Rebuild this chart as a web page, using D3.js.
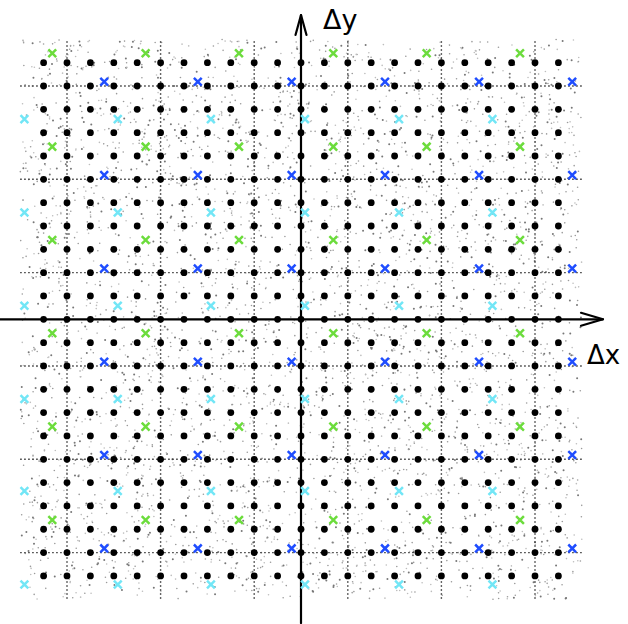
<!DOCTYPE html>
<html>
<head>
<meta charset="utf-8">
<script src="https://cdn.jsdelivr.net/npm/d3@7"></script>
<style>
  html, body { margin: 0; padding: 0; background: #fff; }
  svg { display: block; }
</style>
</head>
<body>
<svg id="chart" width="628" height="624"></svg>
<script>
// Integer lattice positions (in lattice units) for the black dots
const latticeSteps = [-11, -10, -9, -8, -7, -6, -5, -4, -3, -2, -1, 0, 1, 2, 3, 4, 5, 6, 7, 8, 9, 10, 11];
// Dotted guide lines, every fourth lattice row / column
const guideSteps = [-10, -6, -2, 2, 6, 10];

// Shifted sub-lattices marked with crosses
const greenX = [-10.63, -6.64, -2.65, 1.38, 5.37, 9.36];
const greenY = [11.4, 7.4, 3.4, -0.6, -4.6, -8.6];
const blueX  = [-8.41, -4.41, -0.40, 3.59, 7.61, 11.59];
const blueY  = [10.18, 6.18, 2.18, -1.82, -5.82, -9.82];
const cyanX  = [-11.82, -7.83, -3.85, 0.17, 4.19, 8.18];
const cyanY  = [8.58, 4.58, 0.58, -3.42, -7.36, -11.37];

const crossSeries = [
  { name: "green", xs: greenX, ys: greenY, color: "#6cdc3c" },
  { name: "blue",  xs: blueX,  ys: blueY,  color: "#1f4dff" },
  { name: "cyan",  xs: cyanX,  ys: cyanY,  color: "#72e6f6" }
];

const extent = 12;
const svg = d3.select("#chart");

const x = d3.scaleLinear().domain([-extent, extent]).range([301 - extent * 23.4, 301 + extent * 23.4]);
const y = d3.scaleLinear().domain([-extent, extent]).range([319.3 + extent * 23.33, 319.3 - extent * 23.33]);

// Grainy measurement speckle filling the sampled square (seeded, so it is stable)
const rng = d3.randomLcg(0.4217);
const uni = d3.randomUniform.source(rng);
const ux = uni(-extent, extent);
const shade = uni(0, 1);
const speckle = svg.append("g").attr("class", "speckle");
for (let i = 0; i < 4000; i++) {
  const px = ux(), py = ux();
  const s = shade();
  speckle.append("circle")
    .attr("cx", x(px)).attr("cy", y(py))
    .attr("r", s < 0.25 ? 1.0 : 0.8)
    .attr("fill", s < 0.25 ? "#777" : (s < 0.65 ? "#9a9a9a" : "#bdbdbd"));
}

// Dotted guide lines
const guides = svg.append("g").attr("class", "guides")
  .attr("stroke", "#333").attr("stroke-width", 1.4).attr("stroke-dasharray", "1.5,2.5");
guides.selectAll("line.h").data(guideSteps).join("line")
  .attr("class", "h")
  .attr("x1", x(-extent)).attr("x2", x(extent))
  .attr("y1", d => y(d)).attr("y2", d => y(d));
guides.selectAll("line.v").data(guideSteps).join("line")
  .attr("class", "v")
  .attr("y1", y(extent) + 2).attr("y2", y(-extent))
  .attr("x1", d => x(d)).attr("x2", d => x(d));

// Axes with open arrowheads
const axes = svg.append("g").attr("class", "axes")
  .attr("stroke", "#000").attr("stroke-width", 2.2).attr("fill", "none")
  .attr("stroke-linecap", "round").attr("stroke-linejoin", "round");
const x0 = x(0), y0 = y(0);
axes.append("line").attr("x1", 0).attr("x2", 603).attr("y1", y0).attr("y2", y0);
axes.append("path").attr("d", `M${603 - 22},${y0 - 6.5} L603,${y0} L${603 - 22},${y0 + 6.5}`);
axes.append("line").attr("x1", x0).attr("x2", x0).attr("y1", 623).attr("y2", 15);
axes.append("path").attr("d", `M${x0 - 5.5},${15 + 20} L${x0},15 L${x0 + 5.5},${15 + 20}`);

// Black lattice dots
const cells = [];
latticeSteps.forEach(i => latticeSteps.forEach(j => cells.push([i, j])));
svg.append("g").attr("class", "lattice")
  .selectAll("circle").data(cells).join("circle")
  .attr("cx", d => x(d[0])).attr("cy", d => y(d[1]))
  .attr("r", 3.4).attr("fill", "#000");

// Cross markers for the shifted sub-lattices
const h = 3.9;
crossSeries.forEach(s => {
  const pts = [];
  s.xs.forEach(a => s.ys.forEach(b => pts.push([a, b])));
  svg.append("g").attr("class", "cross " + s.name)
    .attr("stroke", s.color).attr("stroke-width", 2.5)
    .selectAll("path").data(pts).join("path")
    .attr("d", d => {
      const cx = x(d[0]), cy = y(d[1]);
      return `M${cx - h},${cy - h}L${cx + h},${cy + h}M${cx - h},${cy + h}L${cx + h},${cy - h}`;
    });
});

// Axis labels
svg.append("text").attr("x", 323).attr("y", 29)
  .attr("font-family", "DejaVu Sans, sans-serif").attr("font-size", 27).attr("fill", "#000")
  .text("Δy");
svg.append("text").attr("x", 587).attr("y", 364)
  .attr("font-family", "DejaVu Sans, sans-serif").attr("font-size", 26).attr("fill", "#000")
  .text("Δx");
</script>
</body>
</html>
